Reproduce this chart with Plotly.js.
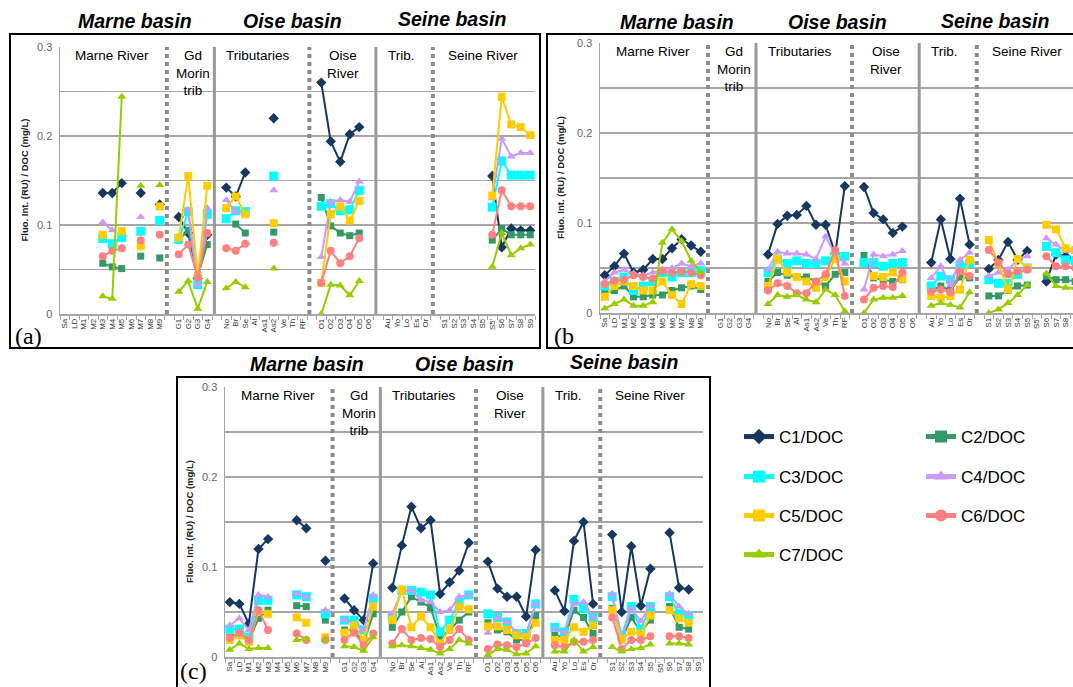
<!DOCTYPE html>
<html><head><meta charset="utf-8">
<script src="https://cdn.plot.ly/plotly-3.0.1.min.js"></script>
<style>html,body{margin:0;padding:0;background:#fff;} #chart{width:1073px;height:687px;}</style>
</head><body><div id="chart"></div>
<script>
// ---- categories (sections along the x axis) ----
const marneRiver = ['Sa','LD','M1','M2','M3','M4','M5','M6','M7','M8','M9'];
const gdMorin    = ['G1','G2','G3','G4'];
const oiseTrib   = ['No','Br','Se','Al','As1','As2','Ve','Th','RF'];
const oiseRiver  = ['O1','O2','O3','O4','O5','O6'];
const seineTrib  = ['Au','Yo','Lo','Es','Or'];
const seineRiver = ['S1','S2','S3','S4','S5',"S5'",'S6','S7','S8','S9'];
const sectionNames = ['Marne River','Gd<br>Morin<br>trib','Tributaries','Oise<br>River','Trib.','Seine River'];

const seriesNames = ['C1/DOC','C2/DOC','C3/DOC','C4/DOC','C5/DOC','C6/DOC','C7/DOC'];

const n = null;
// ---- panel (a) ----   order: Marne | Gd Morin | Oise trib | Oise River | Seine trib | Seine River
const a_C1 = [n,n,n,n,0.136,0.136,0.147,n,0.136,n,0.123, 0.109,0.091,0.040,0.089, 0.142,0.132,0.159,n,n,0.220,n,n,n, 0.260,0.194,0.171,0.202,0.210,n, n,n,n,n,n, n,n,n,n,n,0.155,0.075,0.096,0.094,0.094];
const a_C2 = [n,n,n,n,0.057,0.053,0.051,n,0.065,n,0.063, 0.083,0.094,0.043,0.078, n,0.101,0.091,n,n,0.092,n,n,n, 0.131,0.099,0.091,0.088,0.091,n, n,n,n,n,n, n,n,n,n,n,0.083,0.096,0.089,0.089,0.089];
const a_C3 = [n,n,n,n,0.085,0.079,0.086,n,0.093,n,0.105, 0.084,0.115,0.033,0.112, 0.107,0.116,0.115,n,n,0.155,n,n,n, 0.121,0.124,0.116,0.117,0.139,n, n,n,n,n,n, n,n,n,n,n,0.120,0.172,0.156,0.156,0.156];
const a_C4 = [n,n,n,n,0.103,0.094,n,n,0.109,n,n, n,0.117,0.033,0.119, 0.128,0.115,n,n,n,0.139,n,n,n, 0.064,0.126,0.128,0.126,0.149,n, n,n,n,n,n, n,n,n,n,n,0.130,0.197,0.177,0.181,0.181];
const a_C5 = [n,n,n,n,0.089,n,0.093,n,0.076,n,0.121, 0.086,0.155,0.042,0.144, 0.119,0.132,0.112,n,n,0.102,n,n,n, 0.035,0.112,0.121,0.105,0.127,n, n,n,n,n,n, n,n,n,n,n,0.133,0.244,0.213,0.210,0.201];
const a_C6 = [n,n,n,n,0.065,0.071,0.074,n,0.083,n,0.089, 0.067,0.078,0.041,0.091, 0.074,0.071,0.079,n,n,0.080,n,n,n, 0.035,0.071,0.057,0.065,0.085,n, n,n,n,n,n, n,n,n,n,n,0.089,0.139,0.121,0.121,0.121];
const a_C7 = [n,n,n,n,0.020,0.017,0.244,n,0.144,n,0.145, 0.025,0.037,0.006,0.036, 0.029,0.036,0.030,n,n,0.051,n,n,n, 0.000,0.033,0.032,0.021,0.037,n, n,n,n,n,n, n,n,n,n,n,0.053,0.091,0.066,0.074,0.078];

// ---- panel (b) ----
const b_C1 = [0.042,0.052,0.066,0.045,0.048,0.060,0.060,0.072,0.082,0.075,0.068, n,n,n,n, 0.065,0.099,0.108,0.109,0.119,0.098,0.098,0.066,0.141, 0.140,0.111,0.104,0.089,0.096,n, 0.056,0.104,0.060,0.127,0.076, 0.049,0.059,0.079,0.059,0.069,n,0.035,0.065,0.063,0.060];
const b_C2 = [0.022,0.025,0.030,0.018,0.018,0.020,0.020,0.025,0.028,0.030,0.026, n,n,n,n, 0.035,0.045,0.042,0.040,0.040,0.035,0.030,0.043,0.045, 0.064,0.039,0.037,0.035,0.037,n, 0.025,0.030,0.025,0.040,0.039, 0.019,0.019,0.025,0.030,0.031,n,0.041,0.037,0.037,0.035];
const b_C3 = [0.030,0.035,0.040,0.025,0.030,0.035,0.045,0.040,0.045,0.045,0.047, n,n,n,n, 0.045,0.060,0.055,0.058,0.055,0.055,0.058,0.063,0.063, 0.056,0.056,0.052,0.055,0.056,n, 0.030,0.041,0.037,0.052,0.055, 0.037,0.033,0.033,0.043,0.050,n,0.074,0.067,0.059,0.058];
const b_C4 = [0.035,0.045,0.048,0.044,0.042,0.045,0.048,0.050,0.055,0.052,0.055, n,n,n,n, 0.048,0.068,0.066,0.066,0.065,0.060,0.085,0.065,0.055, 0.026,0.065,0.063,0.065,0.069,n, 0.039,0.052,0.031,0.059,0.067, 0.041,0.045,0.048,0.059,0.063,n,0.083,0.076,0.069,0.068];
const b_C5 = [0.018,0.030,0.035,0.030,0.025,0.025,0.035,0.020,0.010,0.032,0.030, n,n,n,n, 0.030,0.060,0.045,0.040,0.035,0.028,0.040,0.060,0.035, n,0.041,0.040,0.045,0.038,n, 0.019,0.017,0.019,0.026,0.059, 0.081,0.055,0.026,0.060,0.050,n,0.098,0.093,0.072,0.070];
const b_C6 = [0.032,0.036,0.037,0.042,0.040,0.038,0.047,0.045,0.046,0.045,0.042, n,n,n,n, 0.025,0.033,0.030,0.022,0.022,0.035,0.043,0.070,0.019, 0.015,0.028,0.030,0.029,0.045,n, 0.024,0.026,0.023,0.046,0.041, 0.070,0.056,0.043,0.046,0.048,n,0.063,0.052,0.052,0.050];
const b_C7 = [0.005,0.010,0.015,0.008,0.008,0.012,0.078,0.093,0.080,0.058,0.045, n,n,n,n, 0.010,0.020,0.018,0.020,0.015,0.012,0.026,0.020,0.002, 0.000,0.015,0.017,0.017,0.019,n, 0.008,0.011,0.009,0.006,0.023, 0.000,0.004,0.011,0.020,0.031,n,0.044,0.030,0.028,0.028];

// ---- panel (c) ----
const c_C1 = [0.061,0.059,0.037,0.120,0.131,n,n,0.152,0.143,n,0.107, 0.065,0.052,0.041,0.104, 0.077,0.124,0.167,0.143,0.152,0.070,0.083,0.096,0.127, 0.106,0.076,0.067,0.067,0.045,0.119, 0.074,0.051,0.129,0.150,0.059, 0.136,0.050,0.123,0.057,0.098,n,0.138,0.077,0.075,n];
const c_C2 = [0.022,0.027,0.018,0.043,0.052,n,n,0.057,0.056,n,0.041, 0.030,0.030,0.015,0.048, 0.033,0.050,0.067,0.061,0.055,0.022,0.030,0.041,0.050, 0.038,0.030,0.028,0.019,0.019,0.046, 0.024,0.022,0.052,0.044,0.026, 0.054,0.019,0.044,0.028,0.041,n,0.056,0.033,0.031,n];
const c_C3 = [0.031,0.031,0.022,0.063,0.063,n,n,0.069,0.067,n,0.048, 0.041,0.041,0.030,0.065, 0.044,0.074,0.074,0.072,0.069,0.028,0.041,0.061,0.069, 0.048,0.044,0.039,0.026,0.026,0.059, 0.033,0.028,0.064,0.054,0.044, 0.067,0.024,0.056,0.031,0.056,n,0.067,0.048,0.046,n];
const c_C4 = [0.035,0.043,0.030,0.069,0.067,n,n,0.070,0.067,n,0.052, 0.041,0.037,0.030,0.069, 0.048,0.074,0.074,0.063,0.061,0.050,0.052,0.067,0.069, 0.027,0.044,0.039,0.027,0.024,0.059, 0.031,0.027,0.059,0.061,0.044, 0.070,0.020,0.054,0.040,0.057,n,0.070,0.056,0.048,n];
const c_C5 = [0.019,0.024,0.017,0.050,0.048,n,n,0.044,0.038,n,0.022, 0.027,0.035,0.019,0.056, 0.041,0.075,0.033,0.045,0.033,0.015,0.031,0.056,0.053, 0.034,0.034,0.030,0.024,0.022,0.038, 0.019,0.019,0.033,0.028,0.035, 0.052,0.020,0.028,0.026,0.046,n,0.052,0.043,0.038,n];
const c_C6 = [0.021,0.027,0.019,0.052,0.030,n,n,0.026,0.019,n,0.019, 0.019,0.027,0.013,0.026, 0.015,0.031,0.019,0.021,0.020,0.011,0.019,0.031,0.019, 0.009,0.014,0.013,0.011,0.015,0.021, 0.013,0.011,0.017,0.017,0.019, 0.044,0.009,0.019,0.019,0.023,n,0.023,0.023,0.021,n];
const c_C7 = [0.008,0.015,0.009,0.010,0.010,n,n,0.019,0.020,n,0.019, 0.012,0.011,0.007,0.022, 0.012,0.013,0.012,0.010,0.008,0.004,0.009,0.019,0.015, 0.002,0.009,0.008,0.003,0.004,0.012, 0.006,0.006,0.019,0.006,0.011, 0.011,0.006,0.009,0.010,0.014,n,0.015,0.015,0.014,n];

// ---- build slot layout (one empty slot between sections) ----
const sections = [marneRiver, gdMorin, oiseTrib, oiseRiver, seineTrib, seineRiver];
const tickVals = [], tickText = [], gapSlots = [];
let pos = 0;
sections.forEach((sec, i) => {
  if (i > 0) { gapSlots.push(pos); pos++; }
  sec.forEach(lab => { tickVals.push(pos); tickText.push(lab); pos++; });
});
const nSlots = pos;
const slotX = Array.from({length: nSlots}, (_, i) => i);
function expand(vals) {   // put values on their slots, null on the gap slots
  const out = new Array(nSlots).fill(null);
  tickVals.forEach((s, i) => { out[s] = vals[i]; });
  return out;
}

const colors  = ['#17375e','#339966','#00ffff','#cc99ff','#ffcc00','#ff8080','#99cc00'];
const symbols = ['diamond','square','square','triangle-up','square','circle','triangle-up'];
const sizes   = [8,7,9,8,8,8,8];

const W = 1073, H = 687;
const px = v => v / W, py = v => 1 - v / H;

const panels = [
  {id:'', data:[a_C1,a_C2,a_C3,a_C4,a_C5,a_C6,a_C7], xd:[60,535], yd:[47,314], xr:[-0.5,49.5], legend:false, yt:24},
  {id:'2', data:[b_C1,b_C2,b_C3,b_C4,b_C5,b_C6,b_C7], xd:[600,1073], yd:[43,313], xr:[-0.5,48.77], legend:false, yt:561},
  {id:'3', data:[c_C1,c_C2,c_C3,c_C4,c_C5,c_C6,c_C7], xd:[225,703], yd:[387,657], xr:[-0.5,49.5], legend:true, yt:189}
];

const traces = [];
const layout = {
  width: W, height: H, margin:{l:0,r:0,t:0,b:0},
  paper_bgcolor:'#fff', plot_bgcolor:'#fff', hovermode:false,
  font:{family:'Arial, "Liberation Sans", sans-serif', color:'#000'},
  shapes:[], annotations:[]
};
const grid = '#a6a6a6';
const font = 'Arial, "Liberation Sans", sans-serif';

panels.forEach((p) => {
  const xa = 'x' + p.id, ya = 'y' + p.id;
  p.data.forEach((vals, k) => {
    const t = {
      type:'scatter', mode:'lines+markers', x: slotX, y: expand(vals),
      xaxis: xa, yaxis: ya, name: seriesNames[k],
      line:{color: colors[k], width: 2},
      marker:{symbol: symbols[k], size: sizes[k], color: colors[k]},
      showlegend: p.legend
    };
    if (p.legend) t.legend = k === 0 ? 'legend' : 'legend' + (k + 1);
    traces.push(t);
  });
  layout['xaxis' + p.id] = {
    domain:[px(p.xd[0]), px(p.xd[1])], range:p.xr, anchor: ya,
    tickmode:'array', tickvals: tickVals, ticktext: tickText, tickangle:-90,
    tickfont:{size:8, color:'#333', family:font}, ticks:'',
    minor:{ticks:'outside', tick0:-0.5, dtick:1, ticklen:4, tickcolor:grid, tickwidth:1, showgrid:false},
    showgrid:false, zeroline:false, showline:true, linecolor:grid, linewidth:1.5, fixedrange:true
  };
  layout['yaxis' + p.id] = {
    domain:[py(p.yd[1]), py(p.yd[0])], range:[0,0.3], anchor: xa,
    tickmode:'array', tickvals:[0,0.1,0.2,0.3], ticktext:['0','0.1','0.2','0.3'],
    tickfont:{size:11, color:'#666', family:font}, ticks:'', ticklabelstandoff:4,
    showgrid:true, gridcolor:grid, gridwidth:1.5,
    minor:{dtick:0.05, tick0:0, showgrid:true, gridcolor:grid, gridwidth:1.5},
    zeroline:false, showline:true, linecolor:grid, linewidth:1.5, fixedrange:true
  };
  // section dividers
  gapSlots.forEach((g, i) => {
    const dotted = (i % 2 === 0);
    layout.shapes.push({type:'line', xref:xa, yref: ya + ' domain', x0:g-0.25, x1:g-0.25, y0:0, y1:1,
      line: dotted ? {color:'#8c8c8c', width:4, dash:'4px,4px'} : {color:'#999', width:3}});
  });
  // section labels
  const labX = [5, 13.5, 20.3, 29.3, 35.4, 44];
  sectionNames.forEach((s, i) => {
    layout.annotations.push({xref:xa, yref: ya + ' domain', x: labX[i], y: 1, yanchor:'top', xanchor:'center',
      text: s, showarrow:false, font:{size:13.5, family:font, color:'#000'}, borderpad:0});
  });
  // y axis title
  layout.annotations.push({xref:'paper', yref:'paper', x: px(p.yt), y: py((p.yd[0] + p.yd[1]) / 2),
    xanchor:'center', yanchor:'middle',
    text:'<b>Fluo. Int. (RU) / DOC (mg/L)</b>', textangle:-90, showarrow:false,
    font:{size:9.5, family:font, color:'#222'}});
});

// panel boxes
[[10,540,34,348],[547,1080,34,348],[177,710,377,700]].forEach(b => {
  layout.shapes.push({type:'rect', xref:'paper', yref:'paper', x0:px(b[0]), x1:px(b[1]), y0:py(b[3]), y1:py(b[2]),
    line:{color:'#000', width:2}, fillcolor:'rgba(0,0,0,0)', layer:'above'});
});

// basin titles
const basins = [['Marne basin',135,21],['Oise basin',292,21],['Seine basin',452,19],
                ['Marne basin',677,22],['Oise basin',837,22],['Seine basin',995,21],
                ['Marne basin',307,364],['Oise basin',464,364],['Seine basin',624,362]];
basins.forEach(b => layout.annotations.push({xref:'paper', yref:'paper', x:px(b[1]), y:py(b[2]),
  xanchor:'center', yanchor:'middle',
  text:'<b><i>' + b[0] + '</i></b>', showarrow:false, font:{size:19.5, family:font, color:'#000'}}));

// panel letters
[['(a)',13,336],['(b',552,336],['(c)',178,671]].forEach(l => layout.annotations.push({xref:'paper', yref:'paper',
  x:px(l[1]), y:py(l[2]), xanchor:'left', yanchor:'middle', text:l[0], showarrow:false,
  font:{size:24, family:'"Liberation Serif", "Times New Roman", serif', color:'#000'}}));

// legends, one per series, in two columns
const legPos = [[739,437],[921,437],[739,477],[921,477],[739,516],[921,516],[739,555]];
legPos.forEach((lp, k) => {
  layout[k === 0 ? 'legend' : 'legend' + (k + 1)] = {
    x: px(lp[0]), y: py(lp[1]), xanchor:'left', yanchor:'middle', bgcolor:'rgba(0,0,0,0)',
    borderwidth:0, font:{size:17, family:font, color:'#000'}, itemsizing:'constant'
  };
});

Plotly.newPlot('chart', traces, layout, {staticPlot:true});
</script></body></html>
